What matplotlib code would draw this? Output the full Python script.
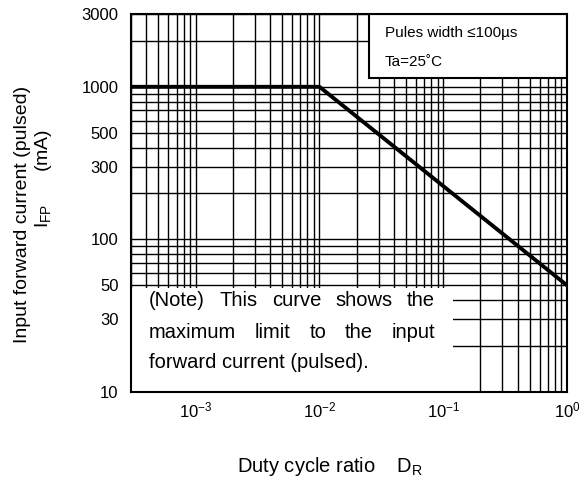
import matplotlib
matplotlib.use("Agg")
import matplotlib.pyplot as plt
from matplotlib.patches import Rectangle
from matplotlib.ticker import FixedLocator, LogLocator, NullFormatter
import matplotlib.transforms as mtransforms

plt.rcParams['font.family'] = ['Liberation Sans', 'DejaVu Sans']
plt.rcParams['mathtext.fontset'] = 'custom'
plt.rcParams['mathtext.rm'] = 'Liberation Sans'
plt.rcParams['mathtext.it'] = 'Liberation Sans'
plt.rcParams['mathtext.default'] = 'regular'

# ---- data ----
duty = [3e-4, 1e-2, 1.0]
current_ma = [1000, 1000, 50]
x_ticks = [1e-3, 1e-2, 1e-1, 1.0]
x_ticklabels = ['$10^{-3}$', '$10^{-2}$', '$10^{-1}$', '$10^{0}$']
y_ticks = [10, 30, 50, 100, 300, 500, 1000, 3000]
y_ticklabels = ['10', '30', '50', '100', '300', '500', '1000', '3000']
note_lines = [
    "(Note) This curve shows the",
    "maximum limit to the input",
    "forward current (pulsed).",
]
cond_lines = ["Pules width \u2264100\u00b5s", "Ta=25\u02daC"]

W, H = 579, 483
fig = plt.figure(figsize=(W / 100, H / 100), dpi=100)
ax = fig.add_axes([131 / W, 1 - 392 / H, (567 - 131) / W, (392 - 14) / H])

ax.set_xscale('log')
ax.set_yscale('log')
ax.set_xlim(3e-4, 1.0)
ax.set_ylim(10, 3000)

ax.xaxis.set_major_locator(FixedLocator(x_ticks))
ax.set_xticklabels(x_ticklabels)
ax.xaxis.set_minor_locator(LogLocator(base=10, subs=[2, 3, 4, 5, 6, 7, 8, 9], numticks=20))
ax.xaxis.set_minor_formatter(NullFormatter())
ax.yaxis.set_major_locator(FixedLocator(y_ticks))
ax.set_yticklabels(y_ticklabels)
ax.yaxis.set_minor_locator(LogLocator(base=10, subs=[1, 2, 3, 4, 5, 6, 7, 8, 9], numticks=20))
ax.yaxis.set_minor_formatter(NullFormatter())

ax.tick_params(axis='both', which='both', length=0)
ax.tick_params(axis='y', which='major', labelsize=12, pad=9)
ax.tick_params(axis='x', which='major', labelsize=12, pad=6)

ax.grid(True, which='both', color='black', linewidth=1.0)
for s in ax.spines.values():
    s.set_linewidth(1.5)

ax.plot(duty, current_ma, color='black', linewidth=2.8, zorder=3, clip_on=True)

# Note box (covers grid)
trans = mtransforms.blended_transform_factory(ax.transAxes, ax.transData)
note_box = Rectangle((0, 10), 0.738, 48 - 10, transform=trans, facecolor='white',
                     edgecolor='none', zorder=2)
ax.add_patch(note_box)

# Condition box
cond_box = Rectangle((0.546, 0.83), 0.454, 0.17, transform=ax.transAxes, facecolor='white',
                     edgecolor='black', linewidth=1.5, zorder=2)
ax.add_patch(cond_box)
fig.text(385 / W, 1 - 33 / H, cond_lines[0], fontsize=11, va='center', ha='left')
fig.text(385 / W, 1 - 62 / H, cond_lines[1], fontsize=11, va='center', ha='left')

# justified note text
fig.canvas.draw()
renderer = fig.canvas.get_renderer()
note_fs = 14.5
x_left, x_right = 149, 435
ys = [301, 332, 362]
for i, line in enumerate(note_lines):
    y = 1 - ys[i] / H
    if i < len(note_lines) - 1:
        words = line.split()
        texts = [fig.text(0, y, w, fontsize=note_fs, va='center', ha='left') for w in words]
        widths = [t.get_window_extent(renderer).width for t in texts]
        gap = (x_right - x_left - sum(widths)) / (len(words) - 1)
        xx = x_left
        for t, wd in zip(texts, widths):
            t.set_x(xx / W)
            xx += wd + gap
    else:
        fig.text(x_left / W, y, line, fontsize=note_fs, va='center', ha='left')

# axis labels
fig.text(237 / W, 1 - 466 / H, 'Duty cycle ratio    D$_{R}$', fontsize=14.5, va='center', ha='left')
fig.text(23 / W, 1 - 214 / H, 'Input forward current (pulsed)', fontsize=14, rotation=90,
         va='center', ha='center')
fig.text(43 / W, 1 - 178 / H, 'I$_{FP}$      (mA)', fontsize=14, rotation=90,
         va='center', ha='center')

fig.savefig('out.png', dpi=100)
